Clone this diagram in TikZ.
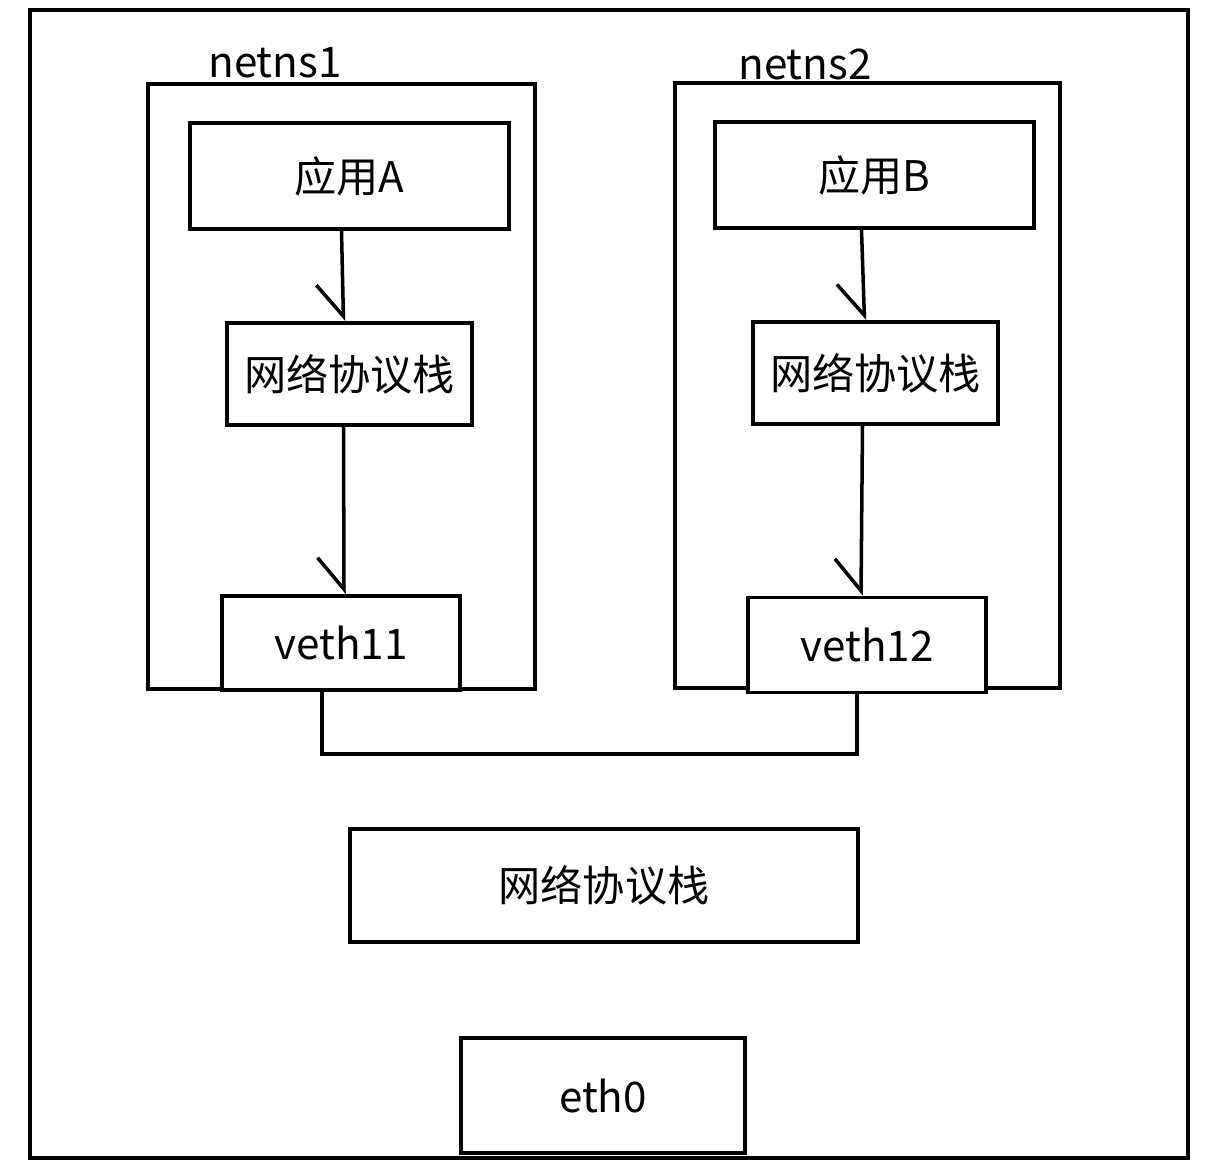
\documentclass[tikz,border=0pt]{standalone}
\usepackage{fontspec}
\setmainfont{Noto Sans CJK SC}
\usetikzlibrary{arrows.meta}
\tikzset{
  box/.style={draw=black, line width=2.2pt, inner sep=0pt, font=\fontsize{24}{28}\selectfont},
  flow/.style={line width=2pt, -{Straight Barb[right,length=18pt,width=30pt]}},
  wire/.style={line width=2pt},
}
\begin{document}
\begin{tikzpicture}[x=0.02cm, y=-0.02cm]
  \useasboundingbox (0,0) rectangle (1221,1175);
  % host
  \draw [line width=2.2pt] (30,10) rectangle (1188,1158);
  % namespaces
  \node [box, minimum width=387*0.02cm, minimum height=605*0.02cm] (ns1) at (341.5,386.5) {};
  \node [font=\fontsize{24}{28}\selectfont, anchor=base] (ns1lbl) at (275,78) {netns1};
  \node [box, minimum width=385*0.02cm, minimum height=605*0.02cm] (ns2) at (867.5,385.5) {};
  \node [font=\fontsize{24}{28}\selectfont, anchor=base] (ns2lbl) at (805,80) {netns2};
  % left
  \node [box, fill=white, minimum width=319*0.02cm, minimum height=106*0.02cm] (appA) at (349.5,176) {应用A};
  \node [box, fill=white, minimum width=245*0.02cm, minimum height=102*0.02cm] (stackA) at (349.5,374) {网络协议栈};
  \node [box, fill=white, minimum width=238*0.02cm, minimum height=94*0.02cm] (veth11) at (341,643) {veth11};
  % right
  \node [box, fill=white, minimum width=319*0.02cm, minimum height=106*0.02cm] (appB) at (874.5,175) {应用B};
  \node [box, fill=white, minimum width=245*0.02cm, minimum height=102*0.02cm] (stackB) at (875.5,373) {网络协议栈};
  \node [box, fill=white, minimum width=238*0.02cm, minimum height=95*0.02cm] (veth12) at (867,645) {veth12};
  % host side
  \node [box, minimum width=508*0.02cm, minimum height=113*0.02cm] (stack) at (604,885.5) {网络协议栈};
  \node [box, minimum width=284*0.02cm, minimum height=115*0.02cm] (eth0) at (603,1095.5) {eth0};
  % arrows
  \draw [flow] ([xshift=-8*0.02cm]appA.south) -- ([xshift=-6*0.02cm]stackA.north);
  \draw [flow] ([xshift=-6*0.02cm]stackA.north |- stackA.south) -- ([xshift=3*0.02cm]veth11.north);
  \draw [flow] ([xshift=-13*0.02cm]appB.south) -- ([xshift=-11*0.02cm]stackB.north);
  \draw [flow] ([xshift=-13*0.02cm]stackB.south) -- ([xshift=-6*0.02cm]veth12.north);
  % veth pair
  \draw [wire] ([xshift=-19*0.02cm]veth11.south) -- ++(0,62) -| ([xshift=-10*0.02cm]veth12.south);
\end{tikzpicture}
\end{document}
